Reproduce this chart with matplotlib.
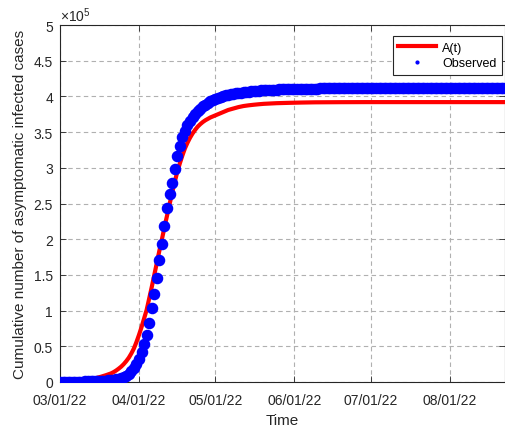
import datetime as dt
import matplotlib
matplotlib.use("Agg")
import matplotlib.pyplot as plt
import matplotlib.dates as mdates
from matplotlib.lines import Line2D

plt.rcParams["font.family"] = ["Liberation Sans", "DejaVu Sans"]
plt.rcParams["mathtext.fontset"] = "custom"
plt.rcParams["mathtext.rm"] = "Liberation Sans"
plt.rcParams["mathtext.it"] = "Liberation Sans:italic"

start_date = dt.date(2022, 3, 1)

# Observed cumulative asymptomatic cases (thousands), one value per day from 03/01/22
observed_k = [
    0.05, 0.1, 0.15, 0.2, 0.25, 0.3, 0.35, 0.4, 0.5, 0.6,
    0.75, 0.9, 1.0, 1.1, 1.15, 1.2, 1.5, 1.8, 2.1, 2.5,
    2.9, 3.4, 4.0, 4.8, 5.8, 7.2, 9.0, 11.5, 15.0, 19.5,
    25.0, 32.0, 42.0, 53.0, 66.0, 83.0, 103.0, 123.0, 145.0, 171.0,
    193.0, 219.0, 243.0, 263.0, 279.0, 298.0, 316.0, 331.0, 343.0, 352.0,
    360.0, 366.0, 371.0, 375.5, 379.5, 383.0, 386.0, 388.5, 391.0, 393.0,
    395.0, 396.5, 398.0, 399.2, 400.3, 401.3, 402.2, 403.0, 403.7, 404.3,
    404.9, 405.4, 405.9, 406.3, 406.7, 407.1, 407.4, 407.7, 408.0, 408.3,
    408.6, 408.8, 409.0, 409.2, 409.4, 409.6, 409.8, 410.0, 410.1, 410.2,
    410.3, 410.4, 410.5, 410.6, 410.7, 410.75, 410.8, 410.85, 410.9, 410.95,
    411.0, 411.05, 411.1, 411.15, 411.2, 411.25, 411.3, 411.3, 411.35, 411.4,
    411.4, 411.45, 411.45, 411.5, 411.5, 411.5, 411.55, 411.55, 411.55, 411.6,
    411.6, 411.6, 411.6, 411.6, 411.65, 411.65, 411.65, 411.65, 411.65, 411.65,
    411.7, 411.7, 411.7, 411.7, 411.7, 411.7, 411.7, 411.7, 411.7, 411.7,
    411.7, 411.7, 411.7, 411.7, 411.7, 411.7, 411.7, 411.7, 411.7, 411.7,
    411.7, 411.7, 411.7, 411.7, 411.7, 411.7, 411.7, 411.7, 411.7, 411.7,
    411.7, 411.7, 411.7, 411.7, 411.7, 411.7, 411.7, 411.7, 411.7, 411.7,
    411.7, 411.7, 411.7, 411.7, 411.7,
]

# Fitted model A(t) (thousands), sampled at the listed day offsets
model_days = [
    0, 2, 4, 6, 8, 10, 12, 14, 16, 18,
    20, 21, 22, 23, 24, 25, 26, 27, 28, 29,
    30, 31, 32, 33, 34, 35, 36, 37, 38, 39,
    40, 41, 42, 43, 44, 45, 46, 47, 48, 49,
    50, 51, 52, 53, 54, 55, 56, 57, 58, 59,
    60, 61, 62, 63, 64, 65, 66, 67, 68, 69,
    70, 72, 74, 76, 78, 80, 85, 90, 95, 100,
    110, 120, 140, 160, 174,
]
model_k = [
    0.5, 0.7, 1.0, 1.4, 2.0, 2.8, 3.9, 5.4, 7.3, 9.5,
    12.0, 13.8, 16.0, 18.6, 21.5, 25.0, 29.2, 34.0, 40.0, 47.0,
    56.0, 66.0, 77.0, 89.0, 101.0, 117.0, 133.0, 150.0, 167.0, 184.0,
    200.0, 217.0, 233.0, 249.0, 265.0, 280.0, 294.0, 306.0, 317.0, 327.0,
    335.0, 342.0, 348.0, 353.0, 357.5, 361.0, 364.0, 366.5, 368.5, 370.5,
    372.0, 373.5, 375.0, 376.5, 378.0, 379.5, 381.0, 382.0, 383.0, 384.0,
    385.0, 386.5, 387.5, 388.3, 389.0, 389.6, 390.5, 391.0, 391.4, 391.7,
    391.9, 392.0, 392.0, 392.0, 392.0,
]

tick_dates = ["2022-03-01", "2022-04-01", "2022-05-01",
              "2022-06-01", "2022-07-01", "2022-08-01"]
y_ticks = [0, 0.5, 1, 1.5, 2, 2.5, 3, 3.5, 4, 4.5, 5]

obs_dates = [start_date + dt.timedelta(days=i) for i in range(len(observed_k))]
obs_vals = [v * 1e3 for v in observed_k]
mod_dates = [start_date + dt.timedelta(days=d) for d in model_days]
mod_vals = [v * 1e3 for v in model_k]

fig = plt.figure(figsize=(5.06, 4.27), dpi=100)
ax = fig.add_axes([60 / 506, 44 / 427, 445 / 506, 357 / 427])

ax.plot(mod_dates, mod_vals, color="#ff0000", lw=3, zorder=3, label="A(t)")
ax.plot(obs_dates, obs_vals, linestyle="none", marker="o", ms=7.3,
        color="#0000ff", mec="#0000ff", zorder=4)

ax.set_xlim(mdates.date2num(start_date), mdates.date2num(start_date) + 174.6)
ax.set_ylim(0, 5e5)

ax.set_xticks([mdates.datestr2num(d) for d in tick_dates])
ax.xaxis.set_major_formatter(mdates.DateFormatter("%m/%d/%y"))
ax.set_yticks([t * 1e5 for t in y_ticks])
ax.set_yticklabels([f"{t:g}" for t in y_ticks])

ax.tick_params(direction="in", length=4, width=0.6, labelsize=10,
               top=True, right=True, colors="#262626")
ax.tick_params(axis="x", pad=8)
ax.tick_params(axis="y", pad=5)
for sp in ax.spines.values():
    sp.set_color("#262626")
    sp.set_linewidth(0.8)

ax.grid(True, color="#b0b0b0", linestyle=(0, (4, 3)), linewidth=0.8)
ax.set_axisbelow(True)

ax.set_xlabel("Time", fontsize=11, color="#262626", labelpad=4)
ax.set_ylabel("Cumulative number of asymptomatic infected cases",
              fontsize=11, color="#262626", labelpad=5)

ax.text(0.0, 1.003, r"$\times10^{5}$", transform=ax.transAxes,
        fontsize=10, color="#262626", ha="left", va="bottom")

handles = [
    Line2D([], [], color="#ff0000", lw=3),
    Line2D([], [], linestyle="none", marker="o", ms=2, color="#0000ff"),
]
leg = ax.legend(handles, ["A(t)", "Observed"], loc="upper right",
                bbox_to_anchor=(0.993, 0.969), borderaxespad=0,
                fontsize=9, fancybox=False, framealpha=1,
                edgecolor="#262626", handlelength=3.0, handletextpad=0.5,
                labelspacing=0.3, borderpad=0.45)
leg.get_frame().set_linewidth(0.8)

fig.savefig("out.png", dpi=100)
